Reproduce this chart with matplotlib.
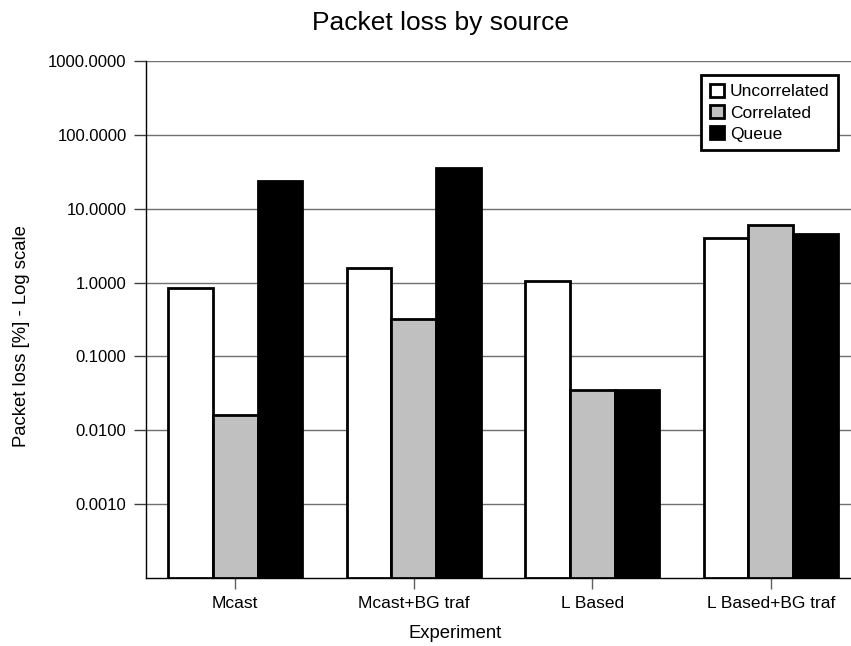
import numpy as np
import matplotlib
matplotlib.use("Agg")
import matplotlib.pyplot as plt
from matplotlib.ticker import FixedLocator, FuncFormatter, NullLocator

plt.rcParams['font.family'] = ['Liberation Sans', 'DejaVu Sans']

# packet loss per experiment, in percent
experiments = ["Mcast", "Mcast+BG traf", "L Based", "L Based+BG traf"]
uncorrelated = [0.855, 1.57, 1.04, 4.0]
correlated = [0.0163, 0.32, 0.0349, 5.94]
queue = [24.0, 35.6, 0.0352, 4.58]

series = [("Uncorrelated", uncorrelated, "white"),
          ("Correlated", correlated, "#c0c0c0"),
          ("Queue", queue, "black")]

ymin, ymax = 1e-4, 1e3
yticks = [1e-3, 1e-2, 1e-1, 1, 10, 100, 1000]

fig = plt.figure(figsize=(8.51, 6.46), dpi=100)
ax = fig.add_axes([146/851, 68/646, 714/851, 517/646])

x = np.arange(len(experiments))
w = 0.25
for i, (name, vals, col) in enumerate(series):
    vals = np.array(vals)
    ax.bar(x + (i - 1) * w, vals - ymin, bottom=ymin, width=w,
           color=col, edgecolor="black", linewidth=2.0, label=name,
           zorder=3)

ax.set_yscale("log")
ax.set_ylim(ymin, ymax)
ax.set_xlim(-0.5, len(experiments) - 0.5)
ax.yaxis.set_major_locator(FixedLocator(yticks))
ax.yaxis.set_minor_locator(NullLocator())
ax.yaxis.set_major_formatter(FuncFormatter(lambda v, p: "%.4f" % v))
ax.set_xticks(x)
ax.set_xticklabels(experiments)

ax.grid(axis="y", color="#707070", linewidth=1.0, zorder=0)
ax.set_axisbelow(True)
ax.spines["top"].set_visible(False)
ax.spines["right"].set_visible(False)
ax.spines["left"].set_linewidth(1.0)
ax.spines["bottom"].set_linewidth(1.0)
ax.tick_params(axis="y", direction="out", length=9, width=1.0,
               color="#404040", labelsize=12, pad=5)
ax.tick_params(axis="x", direction="out", length=8, width=1.0,
               color="#606060", labelsize=12.5, pad=5)

fig.text(441/851, 1 - 23/646, "Packet loss by source", fontsize=19,
         ha="center", va="center")
fig.text(455/851, 1 - 634/646, "Experiment", fontsize=13.3,
         ha="center", va="center")
fig.text(22/851, 1 - 336/646, "Packet loss [%] - Log scale", fontsize=13.3,
         ha="center", va="center", rotation=90)

leg = ax.legend(loc="upper right", bbox_to_anchor=(838/851, 1 - 75/646),
                bbox_transform=fig.transFigure, fontsize=12.5,
                handlelength=0.8, handleheight=0.8, handletextpad=0.35,
                labelspacing=0.32, borderpad=0.5, borderaxespad=0,
                fancybox=False, framealpha=1)
leg.get_frame().set_edgecolor("black")
leg.get_frame().set_linewidth(2.0)
for h in leg.legend_handles:
    h.set_linewidth(2.0)

fig.savefig("out.png", dpi=100)
